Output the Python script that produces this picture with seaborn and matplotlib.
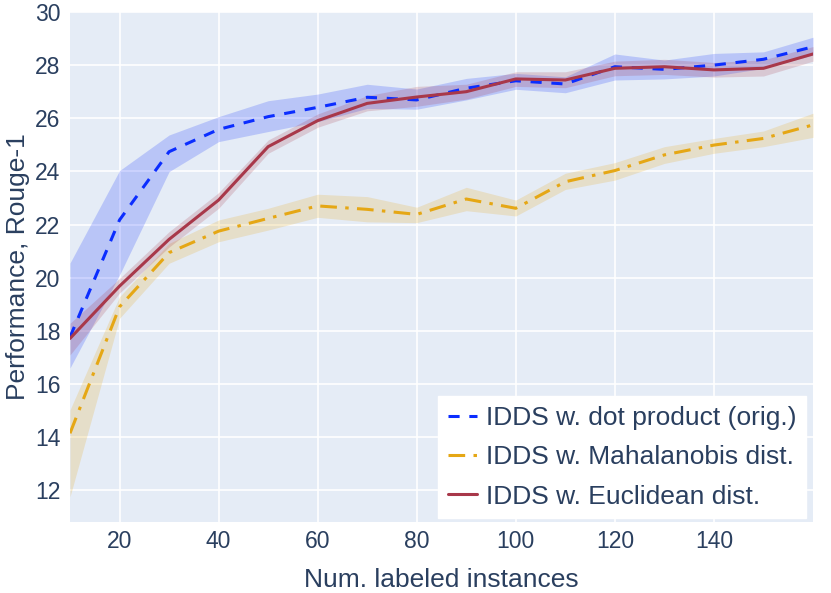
import numpy as np
import pandas as pd
import seaborn as sns
from matplotlib import pyplot as plt

# values
n_labeled = [10, 20, 30, 40, 50, 60, 70, 80, 90, 100, 110, 120, 130, 140, 150, 160]

dot_mean = [17.76, 22.17, 24.74, 25.58, 26.06, 26.41, 26.79, 26.69, 27.13, 27.41, 27.29, 27.94, 27.84, 28.0, 28.22, 28.69]
dot_low = [16.6, 20.1, 23.99, 25.12, 25.5, 25.87, 26.37, 26.34, 26.69, 27.09, 26.96, 27.44, 27.48, 27.59, 27.88, 28.38]
dot_high = [20.55, 24.03, 25.37, 26.06, 26.66, 26.91, 27.28, 27.1, 27.5, 27.69, 27.56, 28.42, 28.19, 28.44, 28.5, 29.05]

maha_mean = [14.14, 18.9, 20.94, 21.75, 22.23, 22.7, 22.57, 22.38, 22.96, 22.61, 23.61, 24.03, 24.62, 24.99, 25.24, 25.75]
maha_low = [11.75, 18.47, 20.54, 21.35, 21.79, 22.27, 22.1, 22.07, 22.52, 22.32, 23.32, 23.67, 24.3, 24.68, 24.93, 25.28]
maha_high = [15.02, 19.28, 21.29, 22.17, 22.61, 23.14, 23.05, 22.65, 23.4, 22.92, 23.93, 24.33, 24.93, 25.24, 25.52, 26.19]

eucl_mean = [17.71, 19.68, 21.44, 22.92, 24.93, 25.91, 26.56, 26.8, 27.0, 27.48, 27.44, 27.88, 27.94, 27.82, 27.88, 28.42]
eucl_low = [17.09, 19.42, 21.15, 22.61, 24.68, 25.66, 26.28, 26.45, 26.72, 27.2, 27.15, 27.6, 27.65, 27.55, 27.59, 28.15]
eucl_high = [18.28, 19.97, 21.73, 23.2, 25.18, 26.16, 26.85, 27.2, 27.28, 27.75, 27.75, 28.15, 28.22, 28.1, 28.2, 28.7]

labels = ["IDDS w. dot product (orig.)", "IDDS w. Mahalanobis dist.", "IDDS w. Euclidean dist."]

sns.set_theme(style="darkgrid")
plt.rcParams['font.family'] = ['Liberation Sans', 'DejaVu Sans']
plt.rcParams['lines.scale_dashes'] = False

txt = '#2a3f5f'
bg = '#e5ecf6'

fig = plt.figure(figsize=(8.31, 5.93), dpi=100)
ax = fig.add_axes([70 / 831, 71 / 593, 743 / 831, 510 / 593])
ax.set_facecolor(bg)

series = [
    (dot_mean, dot_low, dot_high, '#0b2dff', (0, (8, 7))),
    (maha_mean, maha_low, maha_high, '#e5a715', (0, (12, 6, 2.5, 6))),
    (eucl_mean, eucl_low, eucl_high, '#a8384a', '-'),
]

for (mean, low, high, col, ls), lab in zip(series, labels):
    ax.fill_between(n_labeled, low, high, color=col, alpha=0.2, linewidth=0)
    df = pd.DataFrame({'x': n_labeled, 'y': mean})
    sns.lineplot(data=df, x='x', y='y', ax=ax, color=col, linewidth=2.2,
                 linestyle=ls, label=lab, errorbar=None)

ax.set_xlim(10, 160)
ax.set_ylim(10.8, 30)
ax.set_xticks(np.arange(20, 160, 20))
ax.set_yticks(np.arange(12, 31, 2))
ax.grid(color='white', linewidth=1.2)
for s in ax.spines.values():
    s.set_visible(False)
ax.tick_params(axis='both', length=0, labelsize=16.5, colors=txt)
ax.tick_params(axis='y', pad=7)
ax.tick_params(axis='x', pad=6)

ax.set_xlabel("Num. labeled instances", fontsize=19, color=txt)
ax.set_ylabel("Performance, Rouge-1", fontsize=19, color=txt)
ax.xaxis.set_label_coords(0.5, -0.09)
ax.yaxis.set_label_coords(-0.054, 0.5)

leg = ax.legend(loc='lower right', bbox_to_anchor=(0.9906, 0.0078), borderaxespad=0,
                fontsize=19, frameon=True, fancybox=False, framealpha=1,
                facecolor='white', edgecolor='white', handlelength=1.1,
                handletextpad=0.35, labelspacing=0.58, borderpad=0.36)
for t in leg.get_texts():
    t.set_color(txt)

fig.savefig('out.png', dpi=100)
